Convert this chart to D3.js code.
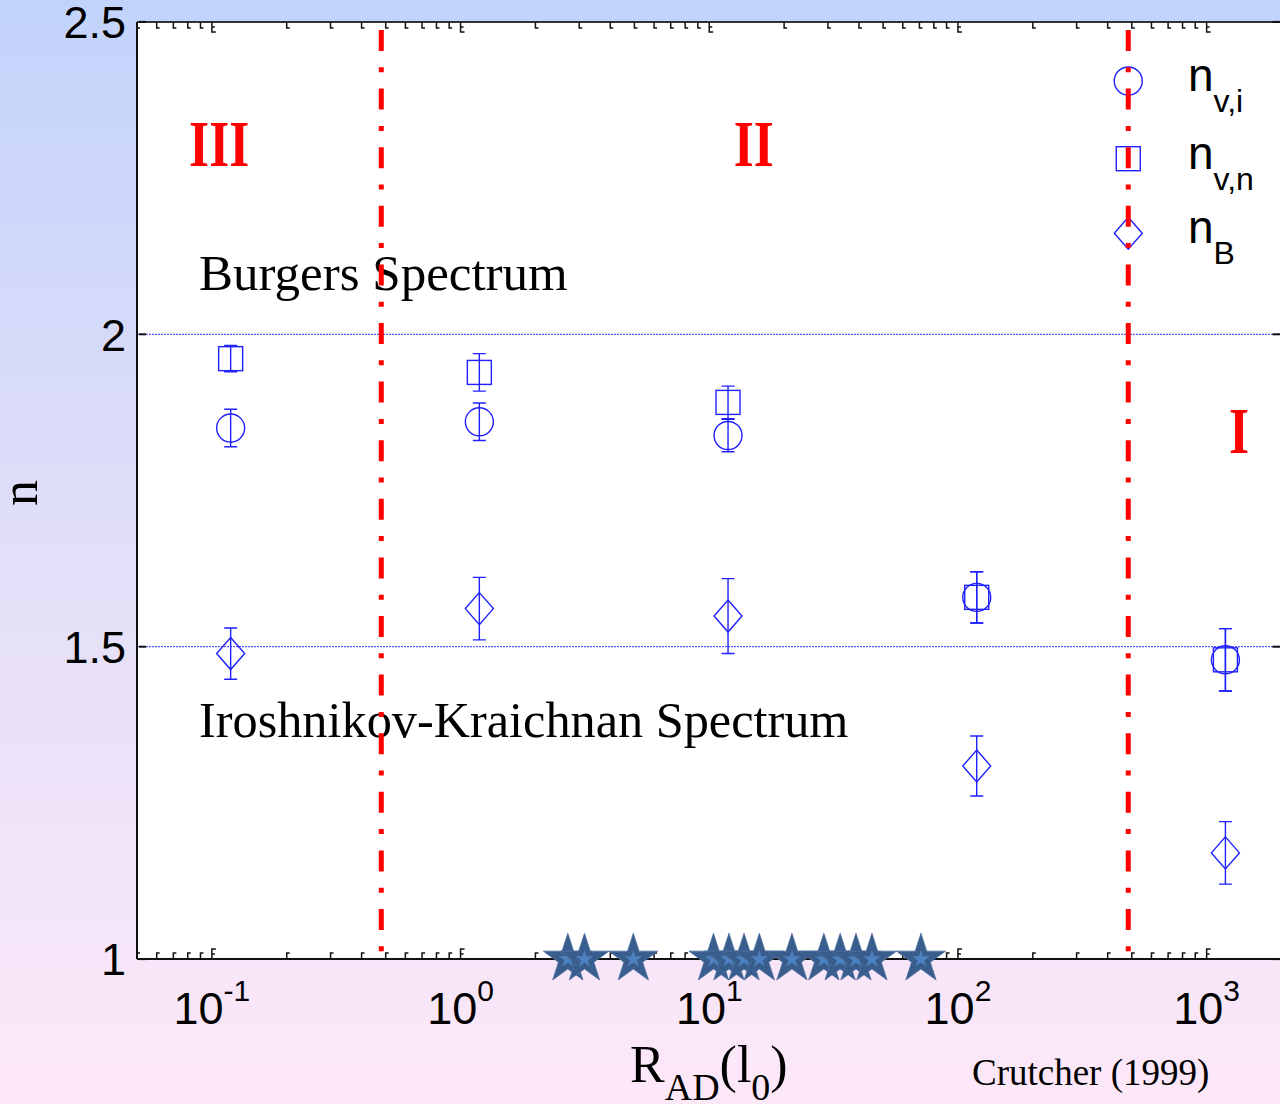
<!DOCTYPE html>
<html>
<head>
<meta charset="utf-8">
<script src="https://cdn.jsdelivr.net/npm/d3@7"></script>
<style>
  html, body { margin: 0; padding: 0; background: #fff; }
  svg { display: block; }
</style>
</head>
<body>
<svg id="chart" width="1280" height="1104"></svg>
<script>
// Ambipolar-diffusion Reynolds number of each cloud scale
const radValues = [0.119, 1.19, 11.9, 119, 1190];

// Spectral indices with their uncertainties
const nviValues = [1.85, 1.86, 1.838, 1.579, 1.479];
const nviErrors = [0.030, 0.030, 0.026, 0.041, 0.050];
const nvnValues = [1.961, 1.939, 1.891, 1.579, 1.479];
const nvnErrors = [0.021, 0.030, 0.026, 0.041, 0.050];
const nBValues  = [1.489, 1.561, 1.549, 1.309, 1.170];
const nBErrors  = [0.041, 0.050, 0.060, 0.048, 0.050];

// Observed clouds (Crutcher 1999), placed on the n = 1 axis
const cloudRad = [2.7, 3.15, 4.95, 10.4, 12.0, 13.8, 15.9, 21.5, 28.9, 33.6, 38.9, 45.1, 71];

// Regime boundaries and reference spectra
const regimeBounds = [0.48, 484];
const refSpectra = [2.0, 1.5];
const yTickValues = [1, 1.5, 2, 2.5];
const yTickLabels = ["1", "1.5", "2", "2.5"];
const regimeLabels = [
  { text: "III", x: 0.107, y: 2.3 },
  { text: "II",  x: 15.1,  y: 2.3 },
  { text: "I",   x: 1350,  y: 1.84 }
];
const legendItems = [
  { key: "circle",  base: "n", sub: "v,i" },
  { key: "square",  base: "n", sub: "v,n" },
  { key: "diamond", base: "n", sub: "B" }
];

const svg = d3.select("#chart");
const W = 1280, H = 1104;
const L = 137, R = 1281.5, T = 21.9, B = 959.1;

const x = d3.scaleLog().domain([0.05, 2000]).range([L, R]);
const y = d3.scaleLinear().domain([1, 2.5]).range([B, T]);

const SANS = "'Liberation Sans', Arial, sans-serif";
const SERIF = "'Liberation Serif', 'Times New Roman', serif";
const BLUE = "#2020ff";

// Page background gradient
const defs = svg.append("defs");
const grad = defs.append("linearGradient").attr("id", "bg")
  .attr("x1", 0).attr("y1", 0).attr("x2", 0).attr("y2", 1);
grad.append("stop").attr("offset", "0%").attr("stop-color", "#c2d3fb");
grad.append("stop").attr("offset", "50%").attr("stop-color", "#e2dff8");
grad.append("stop").attr("offset", "100%").attr("stop-color", "#fde8f8");
svg.append("rect").attr("width", W).attr("height", H).attr("fill", "url(#bg)");

// Plot area
svg.append("rect").attr("x", L).attr("y", T).attr("width", R - L).attr("height", B - T)
  .attr("fill", "#fff");

// Reference spectra (Burgers n = 2, Iroshnikov-Kraichnan n = 1.5)
svg.append("g").selectAll("line").data(refSpectra).join("line")
  .attr("x1", L).attr("x2", R)
  .attr("y1", d => y(d)).attr("y2", d => y(d))
  .attr("stroke", "#3030ff").attr("stroke-width", 1)
  .attr("stroke-dasharray", "2,1");

// Frame
const frame = svg.append("g").attr("stroke", "#111").attr("fill", "none");
frame.append("line").attr("x1", L).attr("x2", L).attr("y1", T).attr("y2", B).attr("stroke-width", 2);
frame.append("line").attr("x1", L).attr("x2", R).attr("y1", T).attr("y2", T).attr("stroke-width", 2).attr("stroke", "#333");
frame.append("line").attr("x1", L).attr("x2", R).attr("y1", B).attr("y2", B).attr("stroke-width", 2);

// Log ticks on bottom and top axes (inward, with small serifs)
const xTicks = x.ticks();
const isMajor = t => Math.abs(Math.log10(t) - Math.round(Math.log10(t))) < 1e-9;
const tickPath = (t, y0, dir) => {
  const px = x(t);
  if (isMajor(t)) {
    return `M${px},${y0}V${y0 + dir * 10}H${px + 4}M${px},${y0 + dir * 5}H${px + 3}`;
  }
  return `M${px},${y0}V${y0 + dir * 6}H${px + 3}`;
};
const ticksG = svg.append("g").attr("stroke", "#111").attr("stroke-width", 1.5).attr("fill", "none");
ticksG.selectAll("path.b").data(xTicks).join("path").attr("class", "b")
  .attr("d", d => tickPath(d, B, -1));
ticksG.selectAll("path.t").data(xTicks).join("path").attr("class", "t")
  .attr("d", d => tickPath(d, T, 1));

// Y ticks on left and right
const yt = svg.append("g").attr("stroke", "#111").attr("stroke-width", 2);
yt.selectAll("line.l").data(yTickValues).join("line").attr("class", "l")
  .attr("x1", L + 2).attr("x2", L + 9).attr("y1", d => y(d)).attr("y2", d => y(d));
yt.selectAll("line.r").data(yTickValues).join("line").attr("class", "r")
  .attr("x1", R - 9).attr("x2", R).attr("y1", d => y(d)).attr("y2", d => y(d));

// Y tick labels
svg.append("g").selectAll("text").data(yTickValues).join("text")
  .attr("x", 126).attr("y", d => y(d)).attr("dy", "0.36em")
  .attr("text-anchor", "end")
  .attr("font-family", SANS).attr("font-size", 45).attr("fill", "#000")
  .text((d, i) => yTickLabels[i]);

// X tick labels: powers of ten
const decades = xTicks.filter(isMajor);
const xl = svg.append("g").selectAll("text").data(decades).join("text")
  .attr("x", d => x(d)).attr("y", 1024)
  .attr("text-anchor", "middle")
  .attr("font-family", SANS).attr("fill", "#000");
xl.append("tspan").attr("font-size", 45).text("10");
xl.append("tspan").attr("font-size", 30).attr("dy", -23)
  .text(d => String(Math.round(Math.log10(d))));

// Error bars and markers
const series = [
  { key: "circle",  vals: nviValues, errs: nviErrors },
  { key: "square",  vals: nvnValues, errs: nvnErrors },
  { key: "diamond", vals: nBValues,  errs: nBErrors }
];
function drawMarker(g, key, cx, cy) {
  if (key === "circle") {
    g.append("circle").attr("cx", cx).attr("cy", cy).attr("r", 14);
  } else if (key === "square") {
    g.append("rect").attr("x", cx - 12).attr("y", cy - 12).attr("width", 24).attr("height", 24);
  } else {
    g.append("path").attr("d", `M${cx},${cy - 16}L${cx + 14},${cy}L${cx},${cy + 16}L${cx - 14},${cy}Z`);
  }
}
const dataG = svg.append("g").attr("stroke", BLUE).attr("stroke-width", 1.4).attr("fill", "none");
series.forEach(s => {
  radValues.forEach((r, i) => {
    const cx = x(r);
    const top = y(s.vals[i] + s.errs[i]);
    const bot = y(s.vals[i] - s.errs[i]);
    dataG.append("path")
      .attr("d", `M${cx},${top}V${bot}M${cx - 6.5},${top}H${cx + 6.5}M${cx - 6.5},${bot}H${cx + 6.5}`);
    drawMarker(dataG, s.key, cx, y(s.vals[i]));
  });
});

// Spectrum annotations
svg.append("text").attr("x", 199).attr("y", 290)
  .attr("font-family", SERIF).attr("font-size", 51).attr("fill", "#000")
  .text("Burgers Spectrum");
svg.append("text").attr("x", 199).attr("y", 737)
  .attr("font-family", SERIF).attr("font-size", 50.3).attr("fill", "#000")
  .text("Iroshnikov-Kraichnan Spectrum");

// Regime labels
svg.append("g").selectAll("text").data(regimeLabels).join("text")
  .attr("transform", d => `translate(${x(d.x)},${y(d.y) + 19}) scale(0.78,1)`)
  .attr("text-anchor", "middle")
  .attr("font-family", SERIF).attr("font-weight", "bold").attr("font-size", 66)
  .attr("fill", "#ff0000")
  .text(d => d.text);

// Legend
const legX = x(regimeBounds[1]);
const legY = [81, 158.7, 233.3];
const legG = svg.append("g");
const legMarks = legG.append("g").attr("stroke", BLUE).attr("stroke-width", 1.4).attr("fill", "none");
legendItems.forEach((d, i) => {
  drawMarker(legMarks, d.key, legX, legY[i]);
  const t = legG.append("text").attr("x", 1188).attr("y", legY[i] + 10)
    .attr("font-family", SANS).attr("fill", "#000");
  t.append("tspan").attr("font-size", 46).text(d.base);
  t.append("tspan").attr("font-size", 32).attr("dy", 21).text(d.sub);
});

// Regime boundaries
svg.append("g").selectAll("line").data(regimeBounds).join("line")
  .attr("x1", d => x(d)).attr("x2", d => x(d))
  .attr("y1", 30).attr("y2", 956)
  .attr("stroke", "#ff0000").attr("stroke-width", 5)
  .attr("stroke-dasharray", "21,16.3,5,16.3");

// Observed clouds as stars along the axis
const starOuter = d3.symbol().type(d3.symbolStar).size(747);
const starInner = d3.symbol().type(d3.symbolStar).size(95);
const stars = svg.append("g").selectAll("g").data(cloudRad).join("g")
  .attr("transform", d => `translate(${x(d)},${y(1)})`);
stars.append("path").attr("d", starOuter()).attr("fill", "#395d8d")
  .attr("stroke", "#4a6e9e").attr("stroke-width", 0.8);
stars.append("path").attr("d", starInner()).attr("fill", "#4f80c0");

// Axis titles
svg.append("text")
  .attr("transform", "translate(37,493) rotate(-90)")
  .attr("text-anchor", "middle")
  .attr("font-family", SERIF).attr("font-size", 52).attr("fill", "#000")
  .text("n");

const xt = svg.append("text").attr("x", 630).attr("y", 1082)
  .attr("font-family", SERIF).attr("fill", "#000");
xt.append("tspan").attr("font-size", 52).text("R");
xt.append("tspan").attr("font-size", 38).attr("dy", 18).text("AD");
xt.append("tspan").attr("font-size", 52).attr("dy", -18).text("(l");
xt.append("tspan").attr("font-size", 38).attr("dy", 18).text("0");
xt.append("tspan").attr("font-size", 52).attr("dy", -18).text(")");

svg.append("text").attr("x", 972).attr("y", 1085)
  .attr("font-family", SERIF).attr("font-size", 37).attr("fill", "#000")
  .text("Crutcher (1999)");
</script>
</body>
</html>
